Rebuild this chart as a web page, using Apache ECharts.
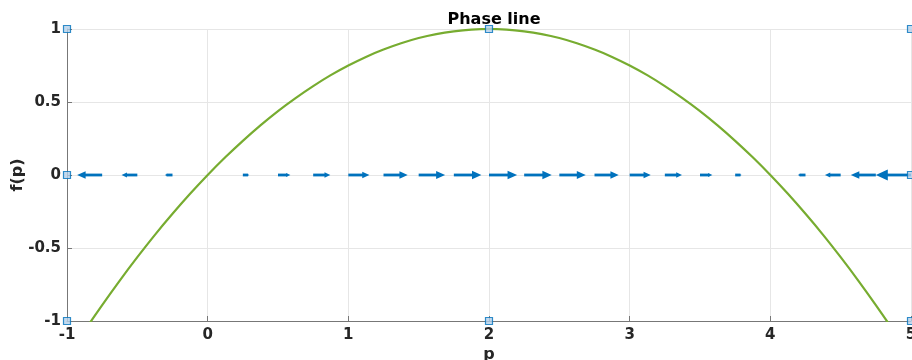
<!DOCTYPE html>
<html>
<head>
<meta charset="utf-8">
<script src="https://cdn.jsdelivr.net/npm/echarts@6/dist/echarts.min.js"></script>
<style>
  html, body { margin: 0; padding: 0; background: #fff; }
  #chart { width: 912px; height: 360px; }
</style>
</head>
<body>
<div id="chart"></div>
<script>
// 曲线 f(p)，从图上读的值
const pVals = [-1, -0.875, -0.75, -0.625, -0.5, -0.375, -0.25, -0.125, 0, 0.125, 0.25, 0.375, 0.5,
  0.625, 0.75, 0.875, 1, 1.125, 1.25, 1.375, 1.5, 1.625, 1.75, 1.875, 2,
  2.125, 2.25, 2.375, 2.5, 2.625, 2.75, 2.875, 3, 3.125, 3.25, 3.375, 3.5,
  3.625, 3.75, 3.875, 4, 4.125, 4.25, 4.375, 4.5, 4.625, 4.75, 4.875, 5]
const fVals = [-1.25, -1.066, -0.891, -0.723, -0.563, -0.410, -0.266, -0.129, 0, 0.121, 0.234, 0.340, 0.438,
  0.527, 0.609, 0.684, 0.75, 0.809, 0.859, 0.902, 0.938, 0.965, 0.984, 0.996, 1,
  0.996, 0.984, 0.965, 0.938, 0.902, 0.859, 0.809, 0.75, 0.684, 0.609, 0.527, 0.438,
  0.340, 0.234, 0.121, 0, -0.129, -0.266, -0.410, -0.563, -0.723, -0.891, -1.066, -1.25]
// 箭头 (quiver) 位置和长度
const quiverP = [-1, -0.75, -0.5, -0.25, 0, 0.25, 0.5, 0.75, 1, 1.25, 1.5, 1.75, 2,
  2.25, 2.5, 2.75, 3, 3.25, 3.5, 3.75, 4, 4.25, 4.5, 4.75, 5]
const quiverU = [-1.25, -0.89, -0.56, -0.27, 0, 0.23, 0.44, 0.61, 0.75, 0.86, 0.94, 0.98, 1,
  0.98, 0.94, 0.86, 0.75, 0.61, 0.44, 0.23, 0, -0.27, -0.56, -0.89, -1.25]
// 方框标记
const markX = [-1, -1, -1, 2, 2, 5, 5, 5]
const markY = [1, 0, -1, 1, -1, 1, 0, -1]

const FONT = 'DejaVu Sans'
const quiverScale = 0.2

const curveData = pVals.map((p, i) => [p, fVals[i]])
const arrowData = quiverP.map((p, i) => [p, 0, quiverU[i]])
const markData = markX.map((x, i) => [x, markY[i]])

const chart = echarts.init(document.getElementById('chart'))

const renderArrow = (params, api) => {
  const p = api.value(0)
  const u = api.value(2)
  if (u === 0) return
  const s = api.coord([p, api.value(1)])
  const e = api.coord([p + u * quiverScale, api.value(1)])
  const len = e[0] - s[0]
  const dir = len > 0 ? 1 : -1
  const headLen = Math.abs(len) * 0.34
  const headW = headLen * 0.45
  const baseX = e[0] - dir * headLen
  return {
    type: 'group',
    children: [
      {
        type: 'line',
        shape: { x1: s[0], y1: s[1], x2: baseX + dir, y2: e[1] },
        style: { stroke: '#0072BD', lineWidth: 2.8 }
      },
      {
        type: 'polygon',
        shape: { points: [[e[0], e[1]], [baseX, e[1] - headW], [baseX, e[1] + headW]] },
        style: { fill: '#0072BD' }
      }
    ]
  }
}

chart.setOption({
  animation: false,
  title: {
    text: 'Phase line',
    left: 489,
    top: 7,
    textAlign: 'center',
    textStyle: { fontFamily: FONT, fontSize: 16, fontWeight: 'bold', color: '#000' }
  },
  grid: { left: 67, right: 1, top: 29, bottom: 39, outerBoundsMode: 'none', containLabel: false },
  xAxis: {
    type: 'value',
    min: -1,
    max: 5,
    interval: 1,
    name: 'p',
    nameLocation: 'middle',
    nameGap: 26,
    nameMoveOverlap: false,
    nameTextStyle: { fontFamily: FONT, fontSize: 16, fontWeight: 'bold', color: '#262626' },
    axisLine: { onZero: false, lineStyle: { color: '#777', width: 1 } },
    axisTick: { inside: true, length: 5, lineStyle: { color: '#777' } },
    axisLabel: { fontFamily: FONT, fontSize: 15, fontWeight: 'bold', color: '#262626', margin: 7 },
    splitLine: { lineStyle: { color: '#e6e6e6' } }
  },
  yAxis: {
    type: 'value',
    min: -1,
    max: 1,
    interval: 0.5,
    name: 'f(p)',
    nameLocation: 'middle',
    nameGap: 41,
    nameMoveOverlap: false,
    nameTextStyle: { fontFamily: FONT, fontSize: 16, fontWeight: 'bold', color: '#262626' },
    axisLine: { show: true, onZero: false, lineStyle: { color: '#777', width: 1 } },
    axisTick: { show: true, inside: true, length: 5, lineStyle: { color: '#777' } },
    axisLabel: { fontFamily: FONT, fontSize: 15, fontWeight: 'bold', color: '#262626', margin: 6 },
    splitLine: { lineStyle: { color: '#e6e6e6' } }
  },
  series: [
    {
      type: 'line',
      data: curveData,
      smooth: 0.3,
      showSymbol: false,
      clip: true,
      lineStyle: { color: '#77AC30', width: 2.2 },
      z: 2
    },
    {
      type: 'custom',
      data: arrowData,
      renderItem: renderArrow,
      clip: true,
      z: 3
    },
    {
      type: 'scatter',
      data: markData,
      symbol: 'rect',
      symbolSize: 7,
      clip: false,
      itemStyle: { color: '#b3d0ea', borderColor: '#0072BD', borderWidth: 1.2 },
      z: 4
    }
  ]
})
</script>
</body>
</html>
